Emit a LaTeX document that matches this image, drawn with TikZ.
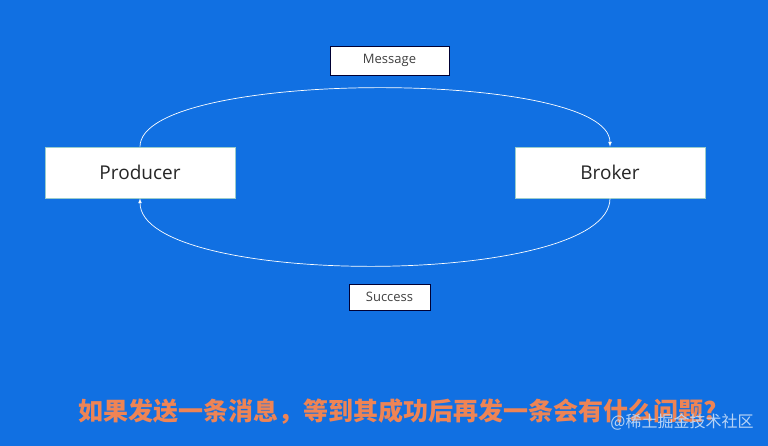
\documentclass[tikz,border=0pt]{standalone}
\usepackage{fontspec}
\setmainfont{Open Sans}
\newfontfamily\cjk{Noto Sans CJK SC}
\definecolor{bgblue}{HTML}{1170E2}
\definecolor{qorange}{HTML}{EE8455}
\begin{document}
\begin{tikzpicture}[x=1pt,y=-1pt]
    \tikzset{
        box/.style={draw=teal!40, fill=white, line width=0.6pt, minimum width=190pt, minimum height=51pt, inner sep=0pt, font=\fontsize{19pt}{22pt}\selectfont\color{black!85}},
        tag/.style={draw=black!80!blue, fill=white, line width=0.8pt, inner sep=0pt, font=\fontsize{13pt}{15pt}\selectfont\color{black!75}},
        flow/.style={white, line width=0.7pt, -latex}
    }
    \fill [bgblue] (0,0) rectangle (768,446);
    \node [box] (producer) at (140,172.5) {Producer};
    \node [box] (broker) at (610,172.5) {Broker};
    \node [tag, minimum width=119pt, minimum height=29pt] (msg) at (389.5,60.5) {Message};
    \node [tag, minimum width=81pt, minimum height=26pt] (ok) at (389.5,297) {Success};
    \draw [flow] (producer.north) .. controls +(0,-78) and +(0,-78) .. (broker.north);
    \draw [flow] (broker.south) .. controls +(0,90) and +(0,90) .. (producer.south);
    \node [font=\cjk\bfseries\fontsize{25pt}{29pt}\selectfont, text=qorange] (question) at (398,412) {如果发送一条消息，等到其成功后再发一条会有什么问题?};
    \node [font=\cjk\fontsize{16pt}{18pt}\selectfont, text=white!70!bgblue] (mark) at (682,422) {@稀土掘金技术社区};
\end{tikzpicture}
\end{document}
